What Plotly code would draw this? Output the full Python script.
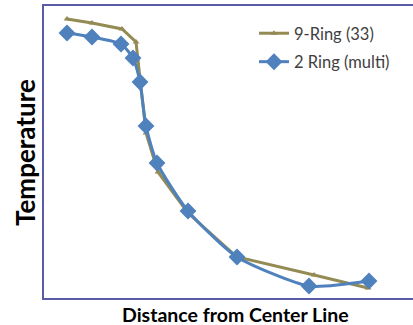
import plotly.graph_objects as go

# Data (arbitrary units)
ring9_x = [23, 48, 78, 92, 102, 114, 144, 193, 270, 324]
ring9_y = [279, 275, 269, 256, 165, 126, 85, 41, 23, 10]
ring2_x = [23, 48, 77, 89, 96, 102, 113, 144, 193, 265, 325]
ring2_y = [265, 261, 254, 240, 216, 172, 135, 87, 41, 12, 17]

TAN = "#948A54"
BLUE = "#4F81BD"
AXIS = "#5B5BA8"
FONT = "Lato, Open Sans, sans-serif"

fig = go.Figure()
fig.add_trace(go.Scatter(
    x=ring9_x, y=ring9_y, mode="lines+markers", name="9-Ring (33)",
    legendgroup="a",
    line=dict(color=TAN, width=3),
    marker=dict(symbol="triangle-up", size=6, color=TAN),
))
fig.add_trace(go.Scatter(
    x=ring2_x, y=ring2_y, mode="lines+markers", name="2 Ring (multi)",
    legendgroup="b",
    line=dict(color=BLUE, width=3, shape="spline", smoothing=0.6),
    marker=dict(symbol="diamond", size=13, color=BLUE),
))

W, H = 413, 325
l, r, t, b = 44, 0, 6, 27
pw, ph = W - l - r, H - t - b
def px2paper(px, py):
    return (px - l) / pw, (H - b - py) / ph

lx, ly = px2paper(254, 16)
ax_, ay_ = px2paper(235, 314)
bx_, by_ = px2paper(25, 153)

fig.update_layout(
    width=W, height=H,
    margin=dict(l=l, r=r, t=t, b=b),
    paper_bgcolor="white", plot_bgcolor="white",
    font=dict(family=FONT, color="#404040"),
    showlegend=True,
    legend=dict(x=lx, y=ly, xanchor="left", yanchor="top",
                font=dict(family=FONT, size=16.5, color="#404040"),
                bgcolor="rgba(0,0,0,0)", tracegroupgap=4, traceorder="grouped",
                itemsizing="trace"),
    xaxis=dict(range=[0, 369], showgrid=False, zeroline=False, showticklabels=False,
               ticks="", showline=True, linecolor=AXIS, linewidth=2, mirror=True),
    yaxis=dict(range=[0, 292], showgrid=False, zeroline=False, showticklabels=False,
               ticks="", showline=True, linecolor=AXIS, linewidth=2),
    annotations=[
        dict(text="<b>Distance from Center Line</b>", x=ax_, y=ay_, xref="paper", yref="paper",
             xanchor="center", yanchor="middle",
             showarrow=False, font=dict(family=FONT, size=19.5, color="black")),
        dict(text="<b>Temperature</b>", x=bx_, y=by_, xref="paper", yref="paper",
             xanchor="center", yanchor="middle",
             textangle=-90, showarrow=False,
             font=dict(family=FONT, size=26, color="black")),
    ],
)

fig.write_html("out.html", config={"displayModeBar": False},
               post_script="document.body.style.margin='0';")
